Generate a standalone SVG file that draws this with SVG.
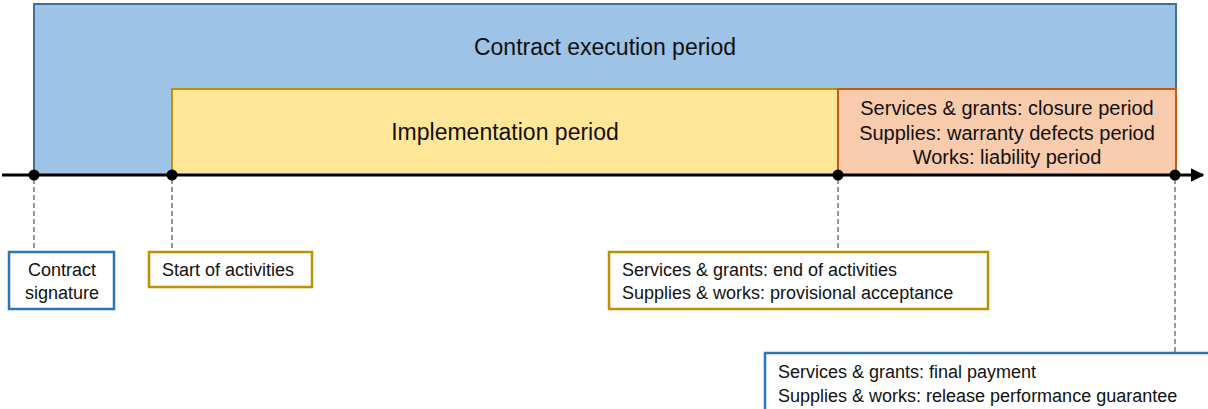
<svg xmlns="http://www.w3.org/2000/svg" width="1208" height="409" viewBox="0 0 1208 409">
<style>
text{font-family:"Liberation Sans",Arial,sans-serif;fill:#111}
.big{font-size:23px}
.mid{font-size:20px}
.sm{font-size:18px}
.dash{stroke:#333;stroke-width:1;stroke-dasharray:5 3;fill:none}
.box{fill:#fff;stroke-width:2.5}
</style>
<defs>
<marker id="arr" viewBox="0 0 10 10" refX="9" refY="5" markerWidth="4.5" markerHeight="4.5" orient="auto" markerUnits="strokeWidth">
<path d="M0,0 L10,5 L0,10 z" fill="#000"/>
</marker>
</defs>
<g id="contract-execution">
<rect x="34" y="4" width="1142" height="171" fill="#9DC3E6" stroke="#41719C" stroke-width="2"/>
<text class="big" x="605" y="55" text-anchor="middle">Contract execution period</text>
</g>
<g id="implementation">
<rect x="172" y="89" width="666" height="86" fill="#FFE699" stroke="#BF9000" stroke-width="2"/>
<text class="big" x="505" y="140" text-anchor="middle">Implementation period</text>
</g>
<g id="closure">
<rect x="838" y="89" width="338" height="86" fill="#F8CBAD" stroke="#C55A11" stroke-width="2"/>
<text class="mid" x="1007" y="115" text-anchor="middle">Services &amp; grants: closure period</text>
<text class="mid" x="1007" y="140" text-anchor="middle">Supplies: warranty defects period</text>
<text class="mid" x="1007" y="164" text-anchor="middle">Works: liability period</text>
</g>
<g id="connectors">
<line x1="2" y1="175" x2="1203" y2="175" stroke="#000" stroke-width="3" marker-end="url(#arr)"/>
<line class="dash" x1="34" y1="179" x2="34" y2="252"/>
<line class="dash" x1="172" y1="179" x2="172" y2="252"/>
<line class="dash" x1="838" y1="179" x2="838" y2="252"/>
<line class="dash" x1="1175" y1="179" x2="1175" y2="353"/>
<circle cx="34" cy="175" r="5.5" fill="#000"/>
<circle cx="172" cy="175" r="5.5" fill="#000"/>
<circle cx="838" cy="175" r="5.5" fill="#000"/>
<circle cx="1175" cy="175" r="5.5" fill="#000"/>
</g>
<g id="contract-signature">
<rect class="box" x="9" y="252" width="105" height="57" stroke="#2E75B6"/>
<text class="sm" x="62" y="276" text-anchor="middle">Contract</text>
<text class="sm" x="62" y="299" text-anchor="middle">signature</text>
</g>
<g id="start-activities">
<rect class="box" x="149" y="252" width="163" height="35" stroke="#BF9000"/>
<text class="sm" x="162" y="276">Start of activities</text>
</g>
<g id="end-activities">
<rect class="box" x="609" y="252" width="379" height="57" stroke="#BF9000"/>
<text class="sm" x="622" y="276">Services &amp; grants: end of activities</text>
<text class="sm" x="622" y="299">Supplies &amp; works: provisional acceptance</text>
</g>
<g id="final-payment">
<rect class="box" x="765" y="353" width="450" height="70" stroke="#2E75B6"/>
<text class="sm" x="778" y="378">Services &amp; grants: final payment</text>
<text class="sm" x="778" y="402">Supplies &amp; works: release performance guarantee</text>
</g>
</svg>
